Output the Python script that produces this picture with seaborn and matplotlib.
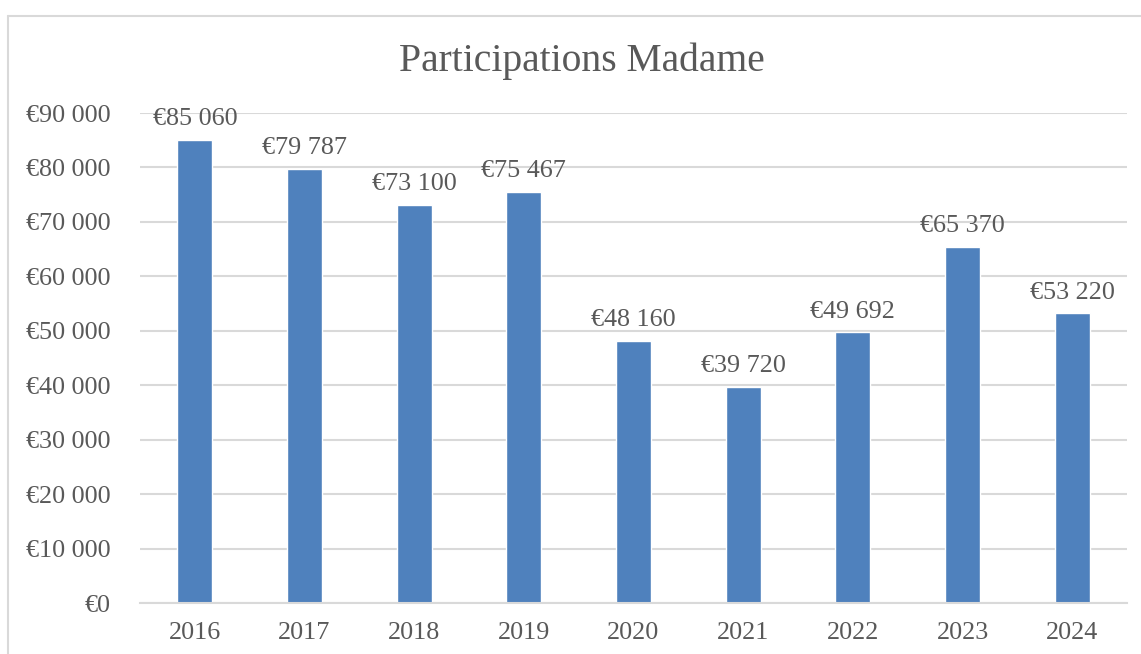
import matplotlib
matplotlib.use("Agg")
import matplotlib.pyplot as plt
import seaborn as sns
import pandas as pd
from matplotlib.lines import Line2D
from matplotlib.ticker import FuncFormatter

years = ["2016", "2017", "2018", "2019", "2020", "2021", "2022", "2023", "2024"]
values = [85060, 79787, 73100, 75467, 48160, 39720, 49692, 65370, 53220]
title = "Participations Madame"

sns.set_theme(style="white")
plt.rcParams['font.family'] = ['Liberation Serif', 'DejaVu Serif']

TXT = "#595959"
GRID = "#d9d9d9"
BAR = "#4f81bd"

def fmt(v):
    s = f"{int(round(v)):,}".replace(",", " ")
    return "€" + s

df = pd.DataFrame({"year": years, "value": values})

W, H = 1141, 654
fig = plt.figure(figsize=(W / 100, H / 100), dpi=100)
ax = fig.add_axes([140 / W, (H - 603) / H, (1127 - 140) / W, (603 - 113) / H])

sns.barplot(data=df, x="year", y="value", color=BAR, width=0.32, ax=ax, saturation=1)

ax.set_ylim(0, 90000)
ax.set_yticks(range(0, 90001, 10000))
ax.yaxis.set_major_formatter(FuncFormatter(lambda v, p: fmt(v)))
ax.set_xlim(-0.5, len(years) - 0.5)
ax.grid(axis="y", color=GRID, linewidth=1.5)
ax.set_axisbelow(True)
for s in ["top", "right", "left"]:
    ax.spines[s].set_visible(False)
ax.spines["bottom"].set_color(GRID)
ax.spines["bottom"].set_linewidth(1.5)
ax.set_xlabel("")
ax.set_ylabel("")
ax.tick_params(axis="both", length=0, colors=TXT, labelsize=18.8)
ax.tick_params(axis="y", pad=21)
ax.tick_params(axis="x", pad=14)

for i, v in enumerate(values):
    ax.annotate(fmt(v), (i, v), xytext=(0, 7), textcoords="offset points",
                ha="center", va="bottom", fontsize=18.8, color=TXT)

fig.text(582 / W, 1 - 61 / H, title, ha="center", va="center", fontsize=28.5, color=TXT)

fig.add_artist(Line2D([8 / W, 8 / W], [0, 1 - 16 / H], color=GRID, linewidth=1.5, transform=fig.transFigure))
fig.add_artist(Line2D([8 / W, 1], [1 - 16 / H, 1 - 16 / H], color=GRID, linewidth=1.5, transform=fig.transFigure))

fig.savefig("out.png", dpi=100, facecolor="white")
